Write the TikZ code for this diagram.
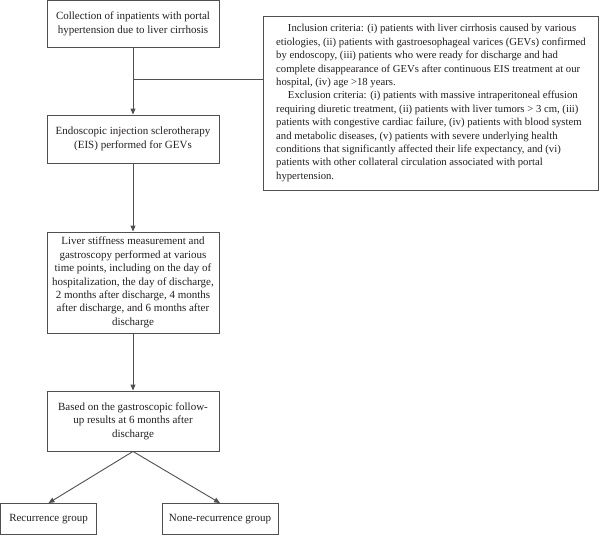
\documentclass[tikz,border=0pt]{standalone}
\usepackage{fontspec}
\setmainfont{Liberation Serif}
\usetikzlibrary{arrows.meta}
\definecolor{ln}{HTML}{505050}
\definecolor{tx}{HTML}{231F20}
\begin{document}
\begin{tikzpicture}[x=1pt,y=-1pt,
  box/.style={draw=ln,line width=0.9pt,text=tx,inner sep=0pt,align=center,
    font=\fontsize{11}{13.4}\selectfont},
  arr/.style={draw=ln,line width=0.9pt,-{Triangle[length=6pt,width=5pt]}},
  lnk/.style={draw=ln,line width=0.9pt}]
\useasboundingbox (0,0) rectangle (600,535);
\node[box,minimum width=172pt,minimum height=47pt] (b1) at (133,24) {Collection of inpatients with portal\\hypertension due to liver cirrhosis};
\node[box,minimum width=172pt,minimum height=48pt] (b2) at (133,139) {Endoscopic injection sclerotherapy\\(EIS) performed for GEVs};
\node[box,minimum width=172pt,minimum height=101pt] (b3) at (133,282.5) {Liver stiffness measurement and\\gastroscopy performed at various\\time points, including on the day of\\hospitalization, the day of discharge,\\2 months after discharge, 4 months\\after discharge, and 6 months after\\discharge};
\node[box,minimum width=172pt,minimum height=60pt] (b4) at (133,421) {Based on the gastroscopic follow-\\up results at 6 months after\\discharge};
\node[box,minimum width=96pt,minimum height=31pt] (r) at (48.5,519) {Recurrence group};
\node[box,minimum width=116pt,minimum height=31pt] (n) at (220,519) {None-recurrence group};
\node[box,minimum width=335pt,minimum height=174pt,align=left,font=\fontsize{10.7}{13.4}\selectfont] (c) at (431,103) {\hspace*{1.1em}Inclusion criteria: (i) patients with liver cirrhosis caused by various\\etiologies, (ii) patients with gastroesophageal varices (GEVs) confirmed\\by endoscopy, (iii) patients who were ready for discharge and had\\complete disappearance of GEVs after continuous EIS treatment at our\\hospital, (iv) age >18 years.\\\hspace*{1.1em}Exclusion criteria: (i) patients with massive intraperitoneal effusion\\requiring diuretic treatment, (ii) patients with liver tumors > 3 cm, (iii)\\patients with congestive cardiac failure, (iv) patients with blood system\\and metabolic diseases, (v) patients with severe underlying health\\conditions that significantly affected their life expectancy, and (vi)\\patients with other collateral circulation associated with portal\\hypertension.};
\coordinate (j) at (b1.south |- 0,79);
\draw[arr] (b1) -- (b2);
\draw[lnk] (j) -- (j -| c.west);
\draw[arr] (b2) -- (b3);
\draw[arr] (b3) -- (b4);
\draw[arr] (b4.south) -- (r.north);
\draw[arr] (b4.south) -- (n.north);
\end{tikzpicture}
\end{document}
